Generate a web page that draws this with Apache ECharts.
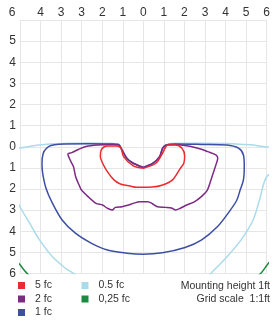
<!DOCTYPE html>
<html>
<head>
<meta charset="utf-8">
<script src="https://cdn.jsdelivr.net/npm/echarts@6/dist/echarts.min.js"></script>
<style>
  html, body { margin: 0; padding: 0; background: #fff; }
  #chart { width: 273px; height: 322px; }
</style>
</head>
<body>
<div id="chart"></div>
<script>
// tick labels as printed on the plot (x: -6..6, y: -6..6 top to bottom)
var xTickLabels = ['6', '4', '3', '3', '2', '1', '0', '1', '2', '3', '4', '5', '6'];
var yTickLabels = ['', '5', '4', '3', '2', '1', '0', '1', '2', '3', '4', '5', '6'];

// isolux contours, [x ft, depth ft] (depth grows downward)
var fc5 = [
  [0, 1.02], [0.61, 0.78], [0.93, 0.31], [1.09, 0], [1.18, -0.08], [1.56, -0.08],
  [1.88, 0.07], [2.01, 0.44], [1.97, 0.78], [1.8, 1.02], [1.42, 1.57], [0.94, 1.81],
  [0.43, 1.91], [0, 1.92], [-0.33, 1.92], [-0.65, 1.86], [-1.12, 1.76], [-1.43, 1.57],
  [-1.75, 1.18], [-1.98, 0.78], [-2.09, 0.47], [-2.05, 0.15], [-1.9, 0], [-1.75, -0.04],
  [-1.28, -0.04], [-1.09, 0.06], [-0.96, 0.47], [-0.49, 0.91], [0, 1.02]
];
var fc2 = [
  [0, 0.98], [0.47, 0.78], [0.79, 0.47], [0.94, 0.07], [1.1, -0.07], [1.56, -0.11],
  [2.36, 0], [2.83, 0.12], [3.13, 0.23], [3.53, 0.39], [3.62, 0.55], [3.55, 0.8],
  [3.45, 1.1], [3.29, 1.57], [3.1, 2.08], [2.82, 2.36], [2.5, 2.6], [2.11, 2.76],
  [1.8, 2.91], [1.56, 2.99], [1.4, 2.91], [1.09, 2.87], [0.69, 2.84], [0.46, 2.71],
  [0.22, 2.6], [-0.17, 2.6], [-0.49, 2.68], [-0.72, 2.76], [-1.04, 2.84], [-1.36, 2.87],
  [-1.51, 2.99], [-1.75, 2.91], [-1.98, 2.76], [-2.3, 2.68], [-2.69, 2.36], [-3.01, 2.05],
  [-3.09, 1.89], [-3.29, 1.42], [-3.4, 0.94], [-3.56, 0.63], [-3.67, 0.34], [-3.48, 0.28],
  [-3.16, 0.13], [-2.79, -0.01], [-2.22, -0.08], [-1.51, -0.11], [-1.2, -0.08],
  [-1.04, 0.15], [-0.8, 0.55], [-0.49, 0.78], [0, 0.98]
];
var fc1 = [
  [0, 0.98], [0.47, 0.78], [0.79, 0.47], [0.94, 0.07], [1.1, -0.08], [1.56, -0.13],
  [2.83, -0.11], [4.06, -0.08], [4.63, 0.07], [4.87, 0.39], [4.91, 0.95], [4.87, 1.57],
  [4.71, 2.05], [4.55, 2.52], [4.24, 2.99], [3.6, 3.79], [2.82, 4.42], [2.03, 4.77],
  [0.93, 5.02], [0, 5.09], [-0.8, 5.04], [-1.75, 4.89], [-2.54, 4.56], [-3.32, 4.08],
  [-3.95, 3.47], [-4.43, 2.66], [-4.74, 1.95], [-4.9, 1.24], [-4.93, 0.77], [-4.87, 0.31],
  [-4.72, 0.08], [-4.49, -0.06], [-4.11, -0.12], [-2.69, -0.14], [-1.51, -0.13],
  [-1.2, -0.11], [-1.04, 0.15], [-0.8, 0.55], [-0.49, 0.78], [0, 0.98]
];
var fc05 = [
  [-6.6, 0.1], [-6, 0.06], [-5.53, -0.01], [-5.05, -0.08], [-4.35, -0.14], [-3.64, -0.16],
  [-2.69, -0.18], [-1.51, -0.16], [-1.23, -0.14], [-1.09, 0.01], [-0.85, 0.44],
  [-0.57, 0.75], [0, 0.94], [0.57, 0.75], [0.85, 0.44], [1.09, 0.01], [1.23, -0.14],
  [1.56, -0.16], [2.83, -0.16], [4.06, -0.15], [4.87, -0.11], [5.34, -0.08], [5.89, 0],
  [6.6, 0.1], [6.8, 0.8], [6, 1.42], [5.65, 2.52], [5.34, 3.47], [4.8, 4.35], [4.08, 5.2],
  [3.29, 5.99], [2.5, 6.7], [0, 7.6], [-2.5, 6.7], [-3.4, 5.99], [-3.79, 5.75],
  [-4.43, 5.2], [-5.05, 4.41], [-5.53, 3.62], [-6, 2.84], [-6.7, 1.5], [-6.6, 0.1]
];
var fc025 = [
  [-6.5, 5.0], [-6, 5.59], [-5.68, 5.97], [-4.5, 7.0], [0, 7.6], [4.5, 7.0],
  [5.72, 5.99], [5.95, 5.69], [6.5, 5.0]
];

var seriesNames = ['5 fc', '2 fc', '1 fc', '0.5 fc', '0,25 fc'];
var seriesData = [fc5, fc2, fc1, fc05, fc025];
var seriesColors = ['#ee2a2e', '#7d2a84', '#3c4fa3', '#abdbea', '#1c8a3f'];

var myChart = echarts.init(document.getElementById('chart'));

var series = seriesNames.map(function (name, i) {
  return {
    name: name,
    type: 'line',
    data: seriesData[i],
    smooth: 0.3,
    symbol: 'none',
    clip: true,
    z: 10 - i,
    lineStyle: { color: seriesColors[i], width: 1.5 },
    itemStyle: { color: seriesColors[i] }
  };
});

var legendBase = {
  orient: 'vertical',
  icon: 'rect',
  itemWidth: 7,
  itemHeight: 7,
  itemGap: 1.5,
  padding: 0,
  selectedMode: false,
  top: 279.5,
  textStyle: {
    fontFamily: 'Liberation Sans, Arial, sans-serif',
    fontSize: 10.5,
    lineHeight: 12,
    color: '#333',
    padding: [0, 0, 0, 5]
  }
};

var option = {
  animation: false,
  grid: { left: 20, right: -1, top: 20, bottom: 48.5 },
  xAxis: {
    type: 'value',
    position: 'top',
    min: -6,
    max: 6,
    interval: 1,
    axisLine: { show: false },
    axisTick: { show: false },
    splitLine: { lineStyle: { color: '#e6e6e6', width: 1 } },
    axisLabel: {
      margin: 1,
      fontFamily: 'Liberation Sans, Arial, sans-serif',
      fontSize: 12,
      color: '#333',
      formatter: function (v) {
        var s = xTickLabels[Math.round(v) + 6];
        return v === -6 ? '{a|' + s + '}' : s;
      },
      rich: { a: { padding: [0, 16, 0, 0], fontSize: 12, color: '#333' } }
    }
  },
  yAxis: {
    type: 'value',
    inverse: true,
    min: -6,
    max: 6,
    interval: 1,
    axisLine: { show: false },
    axisTick: { show: false },
    splitLine: { lineStyle: { color: '#e6e6e6', width: 1 } },
    axisLabel: {
      margin: 4,
      fontFamily: 'Liberation Sans, Arial, sans-serif',
      fontSize: 12,
      color: '#333',
      formatter: function (v) {
        return yTickLabels[Math.round(v) + 6];
      }
    }
  },
  legend: [
    echarts.util.merge({ left: 18, data: ['5 fc', '2 fc', '1 fc'] }, legendBase),
    echarts.util.merge({ left: 81.5, data: ['0.5 fc', '0,25 fc'] }, legendBase)
  ],
  graphic: [{
    type: 'text',
    right: 3,
    top: 279,
    style: {
      text: 'Mounting height 1ft\nGrid scale  1:1ft',
      textAlign: 'right',
      font: '10.5px Liberation Sans, Arial, sans-serif',
      lineHeight: 13.5,
      fill: '#333'
    }
  }],
  series: series
};

myChart.setOption(option);
</script>
</body>
</html>
